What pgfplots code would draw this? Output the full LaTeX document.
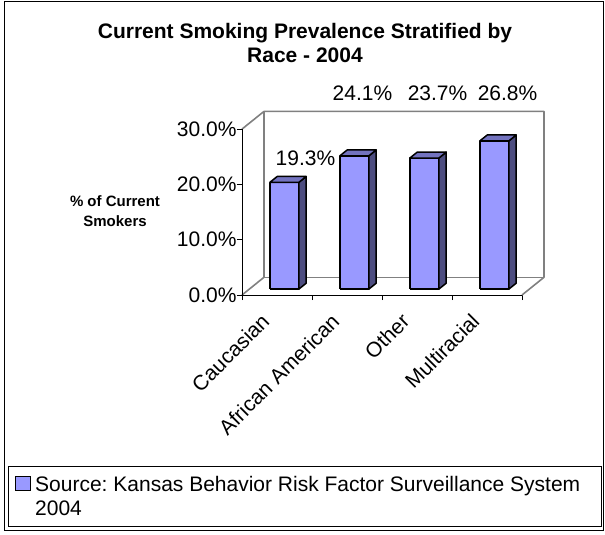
\documentclass[border=0pt]{standalone}
\usepackage{pgfplots}
\pgfplotsset{compat=1.18}
\usepackage{pgfplotstable}
\usepackage{fontspec}
\setmainfont{Liberation Sans}
\frenchspacing
\definecolor{barfront}{RGB}{153,153,255}
\definecolor{bartop}{RGB}{115,115,191}
\definecolor{barside}{RGB}{77,77,128}
\definecolor{wallgray}{RGB}{128,128,128}

\pgfplotstableread{
idx v
0 19.3
1 24.1
2 23.7
3 26.8
}\smoke

\newcommand\bigf{\fontsize{21bp}{24bp}\selectfont}
\newcommand\smallbf{\fontsize{15bp}{18bp}\selectfont\bfseries}

\begin{document}
\begin{tikzpicture}
\useasboundingbox (0,0) rectangle (605bp,535bp);
\draw[black, line width=1bp] (4bp,4bp) rectangle (603bp,533bp);
\node[font=\bigf\bfseries, anchor=base, inner sep=0pt] at (305bp,496bp) {Current Smoking Prevalence Stratified by};
\node[font=\bigf\bfseries, anchor=base, inner sep=0pt] at (305bp,472.5bp) {Race - 2004};
\node[font=\smallbf, anchor=base, inner sep=0pt] at (115bp,328bp) {\% of Current};
\node[font=\smallbf, anchor=base, inner sep=0pt] at (115bp,308bp) {Smokers};

\begin{axis}[
  at={(242bp,240bp)}, anchor=south west,
  scale only axis, width=302bp, height=183.6bp,
  xmin=-0.5, xmax=3.814, ymin=0, ymax=33.2,
  axis lines*=left, axis line style={draw=none},
  clip=false,
  xtick={-0.5,0.5,1.5,2.5,3.5}, xticklabels={},
  ytick={0,10,20,30}, yticklabels={0.0\%,10.0\%,20.0\%,30.0\%},
  tick align=outside, major tick length=5bp,
  tick style={black, line width=1bp},
  yticklabel style={font=\bigf, xshift=3bp},
  extra x ticks={0,1,2,3},
  extra x tick labels={Caucasian,African American,Other,Multiracial},
  extra x tick style={major tick length=0pt,
     xticklabel style={font=\bigf, anchor=north east, inner sep=0pt, xshift=-17bp, yshift=-17bp, rotate=45}},
  legend style={at={(rel axis cs:-0.7748,-0.9314)}, anchor=north west,
     draw=black, line width=1bp, inner xsep=6.7bp, inner ysep=9.4bp,
     column sep=4bp, font=\bigf, nodes={inner sep=0pt, anchor=base west}},
]
% back wall and floor
\addplot[forget plot, wallgray, line width=1.6bp, line join=round]
  coordinates {(-0.5,0) (-0.186,3.2) (-0.186,33.2) (3.814,33.2) (3.814,3.2) (3.5,0)};
\addplot[forget plot, wallgray, line width=1.6bp] coordinates {(-0.186,3.2) (3.814,3.2)};
\addplot[forget plot, wallgray, line width=1.6bp] coordinates {(-0.5,30) (-0.186,33.2)};
\addplot[forget plot, black, line width=1bp] coordinates {(-0.5,0) (3.5,0)};
\addplot[forget plot, black, line width=1bp] coordinates {(-0.5,0) (-0.5,30)};
% bars
\pgfplotsinvokeforeach{0,1,2,3}{
  \pgfplotstablegetelem{#1}{v}\of\smoke
  \pgfmathsetmacro\yt{1.067+\pgfplotsretval}
  \pgfmathsetmacro\ytb{2.133+\pgfplotsretval}
  \pgfmathsetmacro\xl{#1-0.102}
  \pgfmathsetmacro\xr{#1+0.312}
  \pgfmathsetmacro\xlb{#1+0.003}
  \pgfmathsetmacro\xrb{#1+0.417}
  \edef\temp{%
    \noexpand\addplot[forget plot, fill=barfront, draw=black, line width=1.5bp, line join=round]
      coordinates {(\xl,1.067) (\xr,1.067) (\xr,\yt) (\xl,\yt) (\xl,1.067)};
    \noexpand\addplot[forget plot, fill=barside, draw=black, line width=1.5bp, line join=round]
      coordinates {(\xr,1.067) (\xrb,2.133) (\xrb,\ytb) (\xr,\yt) (\xr,1.067)};
    \noexpand\addplot[forget plot, fill=bartop, draw=black, line width=1.5bp, line join=round]
      coordinates {(\xl,\yt) (\xr,\yt) (\xrb,\ytb) (\xlb,\ytb) (\xl,\yt)};
  }%
  \temp
}
% data labels
\node[font=\bigf, anchor=base, inner sep=0pt] at (axis cs:0.407,23.33) {19.3\%};
\node[font=\bigf, anchor=base, inner sep=0pt] at (axis cs:1.221,35.26) {24.1\%};
\node[font=\bigf, anchor=base, inner sep=0pt] at (axis cs:2.293,35.26) {23.7\%};
\node[font=\bigf, anchor=base, inner sep=0pt] at (axis cs:3.293,35.26) {26.8\%};
% legend
\addlegendimage{legend image code/.code={\draw[fill=barfront, draw=black, line width=1bp] (0.5bp,24.5bp) rectangle (15.5bp,38.5bp);}}
\addlegendentry{\parbox[b]{560bp}{Source: Kansas Behavior Risk Factor Surveillance System\\2004}}
\end{axis}
\end{tikzpicture}
\end{document}
